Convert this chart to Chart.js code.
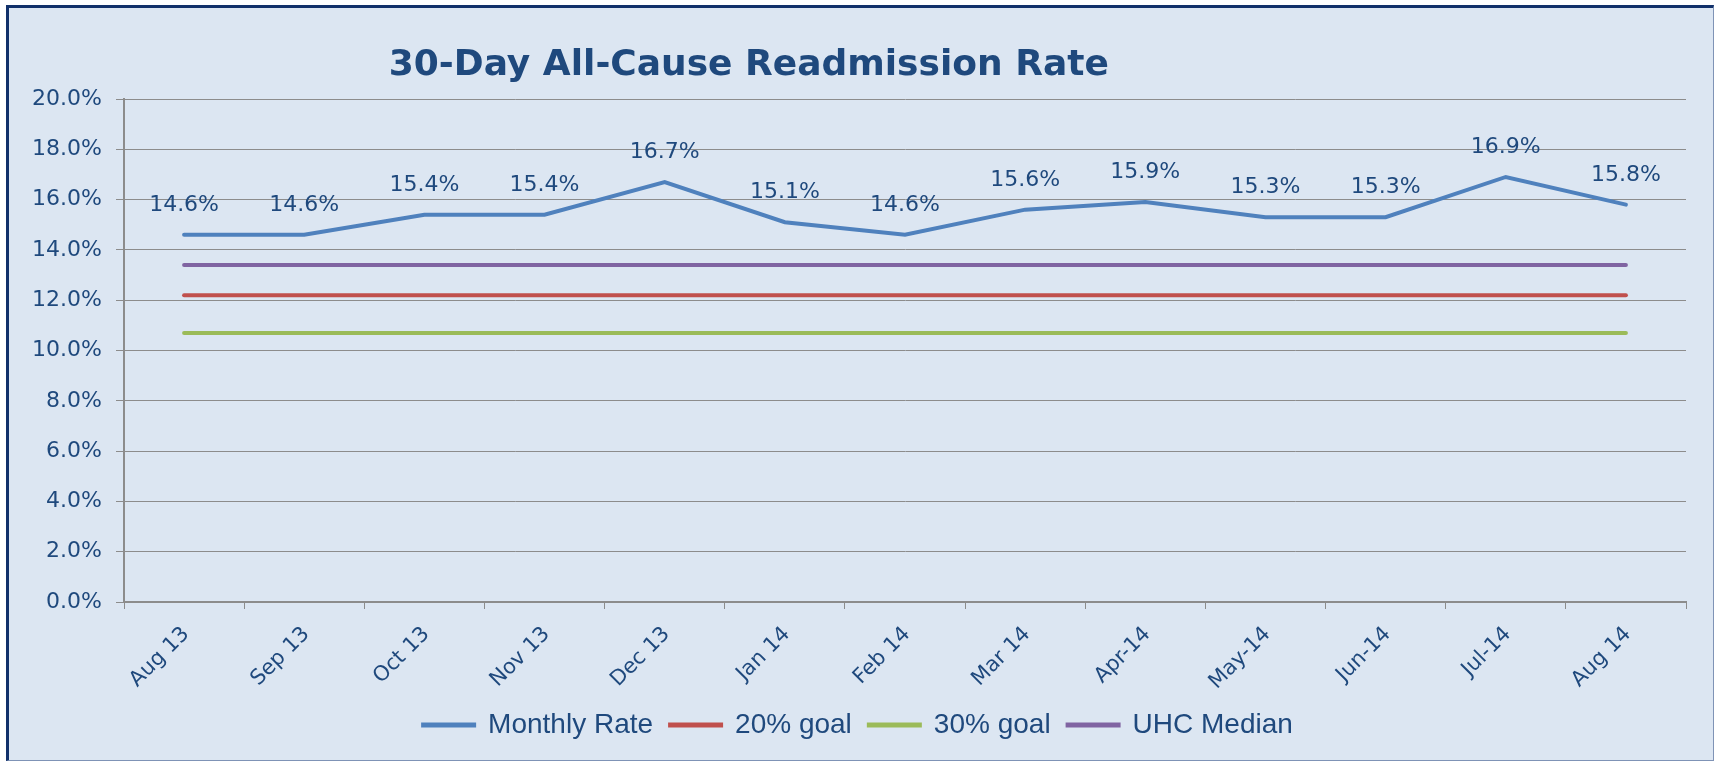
<!DOCTYPE html>
<html>
<head>
<meta charset="utf-8">
<title>30-Day All-Cause Readmission Rate</title>
<script src="https://cdn.jsdelivr.net/npm/chart.js@4"></script>
<style>
    html, body { margin: 0; padding: 0; background: #ffffff; }
    #frame {
        position: absolute; left: 6px; top: 5px; width: 1704px; height: 752px;
        background: #dce6f2;
        border-left: 3px solid #11306a; border-top: 3px solid #11306a;
        border-right: 1px solid #7f93b6; border-bottom: 1px solid #7f93b6;
    }
    #wrap { position: absolute; left: 0; top: 0; width: 1714px; height: 761px; }
</style>
</head>
<body>
<div id="frame"></div>
<div id="wrap"><canvas id="readmitChart"></canvas></div>
<script>
const months = ['Aug 13', 'Sep 13', 'Oct 13', 'Nov 13', 'Dec 13', 'Jan 14', 'Feb 14',
                'Mar 14', 'Apr-14', 'May-14', 'Jun-14', 'Jul-14', 'Aug 14'];
const monthlyRate = [14.6, 14.6, 15.4, 15.4, 16.7, 15.1, 14.6, 15.6, 15.9, 15.3, 15.3, 16.9, 15.8];
const goal20 = [12.2, 12.2, 12.2, 12.2, 12.2, 12.2, 12.2, 12.2, 12.2, 12.2, 12.2, 12.2, 12.2];
const goal30 = [10.7, 10.7, 10.7, 10.7, 10.7, 10.7, 10.7, 10.7, 10.7, 10.7, 10.7, 10.7, 10.7];
const uhcMedian = [13.4, 13.4, 13.4, 13.4, 13.4, 13.4, 13.4, 13.4, 13.4, 13.4, 13.4, 13.4, 13.4];
const yTicks = [0, 2, 4, 6, 8, 10, 12, 14, 16, 18, 20];

const textBlue = '#1f497d';
const gridGrey = '#8c8c8c';

function lineSet(label, data, color) {
    return {
        label: label,
        data: data,
        borderColor: color,
        backgroundColor: color,
        borderWidth: 4,
        borderCapStyle: 'round',
        pointRadius: 0,
        tension: 0,
        fill: false
    };
}

// value labels above the monthly rate line
const valueLabels = {
    id: 'valueLabels',
    afterDatasetsDraw(chart) {
        const ctx = chart.ctx;
        const meta = chart.getDatasetMeta(0);
        ctx.save();
        ctx.font = '22px "DejaVu Sans"';
        ctx.fillStyle = textBlue;
        ctx.textAlign = 'center';
        ctx.textBaseline = 'alphabetic';
        meta.data.forEach((pt, i) => {
            ctx.fillText(monthlyRate[i].toFixed(1) + '%', pt.x, pt.y - 24);
        });
        ctx.restore();
    }
};

// title sits left of centre, like the original
const chartTitle = {
    id: 'chartTitle',
    afterDraw(chart) {
        const ctx = chart.ctx;
        const area = chart.chartArea;
        ctx.save();
        ctx.font = 'bold 36px "DejaVu Sans"';
        ctx.fillStyle = textBlue;
        ctx.textAlign = 'center';
        ctx.textBaseline = 'alphabetic';
        ctx.fillText('30-Day All-Cause Readmission Rate', area.left + (area.right - area.left) * 0.4, 75);
        ctx.restore();
    }
};

const config = {
    type: 'line',
    data: {
        labels: months,
        datasets: [
            lineSet('Monthly Rate', monthlyRate, '#4f81bd'),
            lineSet('20% goal', goal20, '#c0504d'),
            lineSet('30% goal', goal30, '#9bbb59'),
            lineSet('UHC Median', uhcMedian, '#8064a2')
        ]
    },
    options: {
        responsive: true,
        maintainAspectRatio: false,
        animation: false,
        layout: {
            padding: { left: 30, right: 28, top: 99, bottom: 12 }
        },
        scales: {
            x: {
                offset: true,
                grid: {
                    offset: true,
                    drawOnChartArea: false,
                    color: gridGrey,
                    tickLength: 7
                },
                border: { color: gridGrey, width: 2 },
                ticks: {
                    color: textBlue,
                    font: { family: '"DejaVu Sans"', size: 21 },
                    minRotation: 45,
                    maxRotation: 45,
                    autoSkip: false,
                    padding: 13,
                    labelOffset: 2
                },
                afterFit(scale) { scale.height = 92; }
            },
            y: {
                min: 0,
                max: 20,
                afterBuildTicks(scale) { scale.ticks = yTicks.map(v => ({ value: v })); },
                grid: {
                    color: gridGrey,
                    lineWidth: 1,
                    tickLength: 8
                },
                border: { color: gridGrey, width: 2 },
                ticks: {
                    color: textBlue,
                    font: { family: '"DejaVu Sans"', size: 22 },
                    padding: 14,
                    callback: v => v.toFixed(1) + '%'
                },
                afterFit(scale) { scale.width = 94; }
            }
        },
        plugins: {
            legend: {
                position: 'bottom',
                labels: {
                    color: textBlue,
                    font: { family: '"Liberation Sans"', size: 28 },
                    boxWidth: 51,
                    boxHeight: 1,
                    padding: 17
                }
            },
            tooltip: { enabled: false }
        }
    },
    plugins: [valueLabels, chartTitle]
};

const readmitChart = new Chart(document.getElementById('readmitChart').getContext('2d'), config);
</script>
</body>
</html>
